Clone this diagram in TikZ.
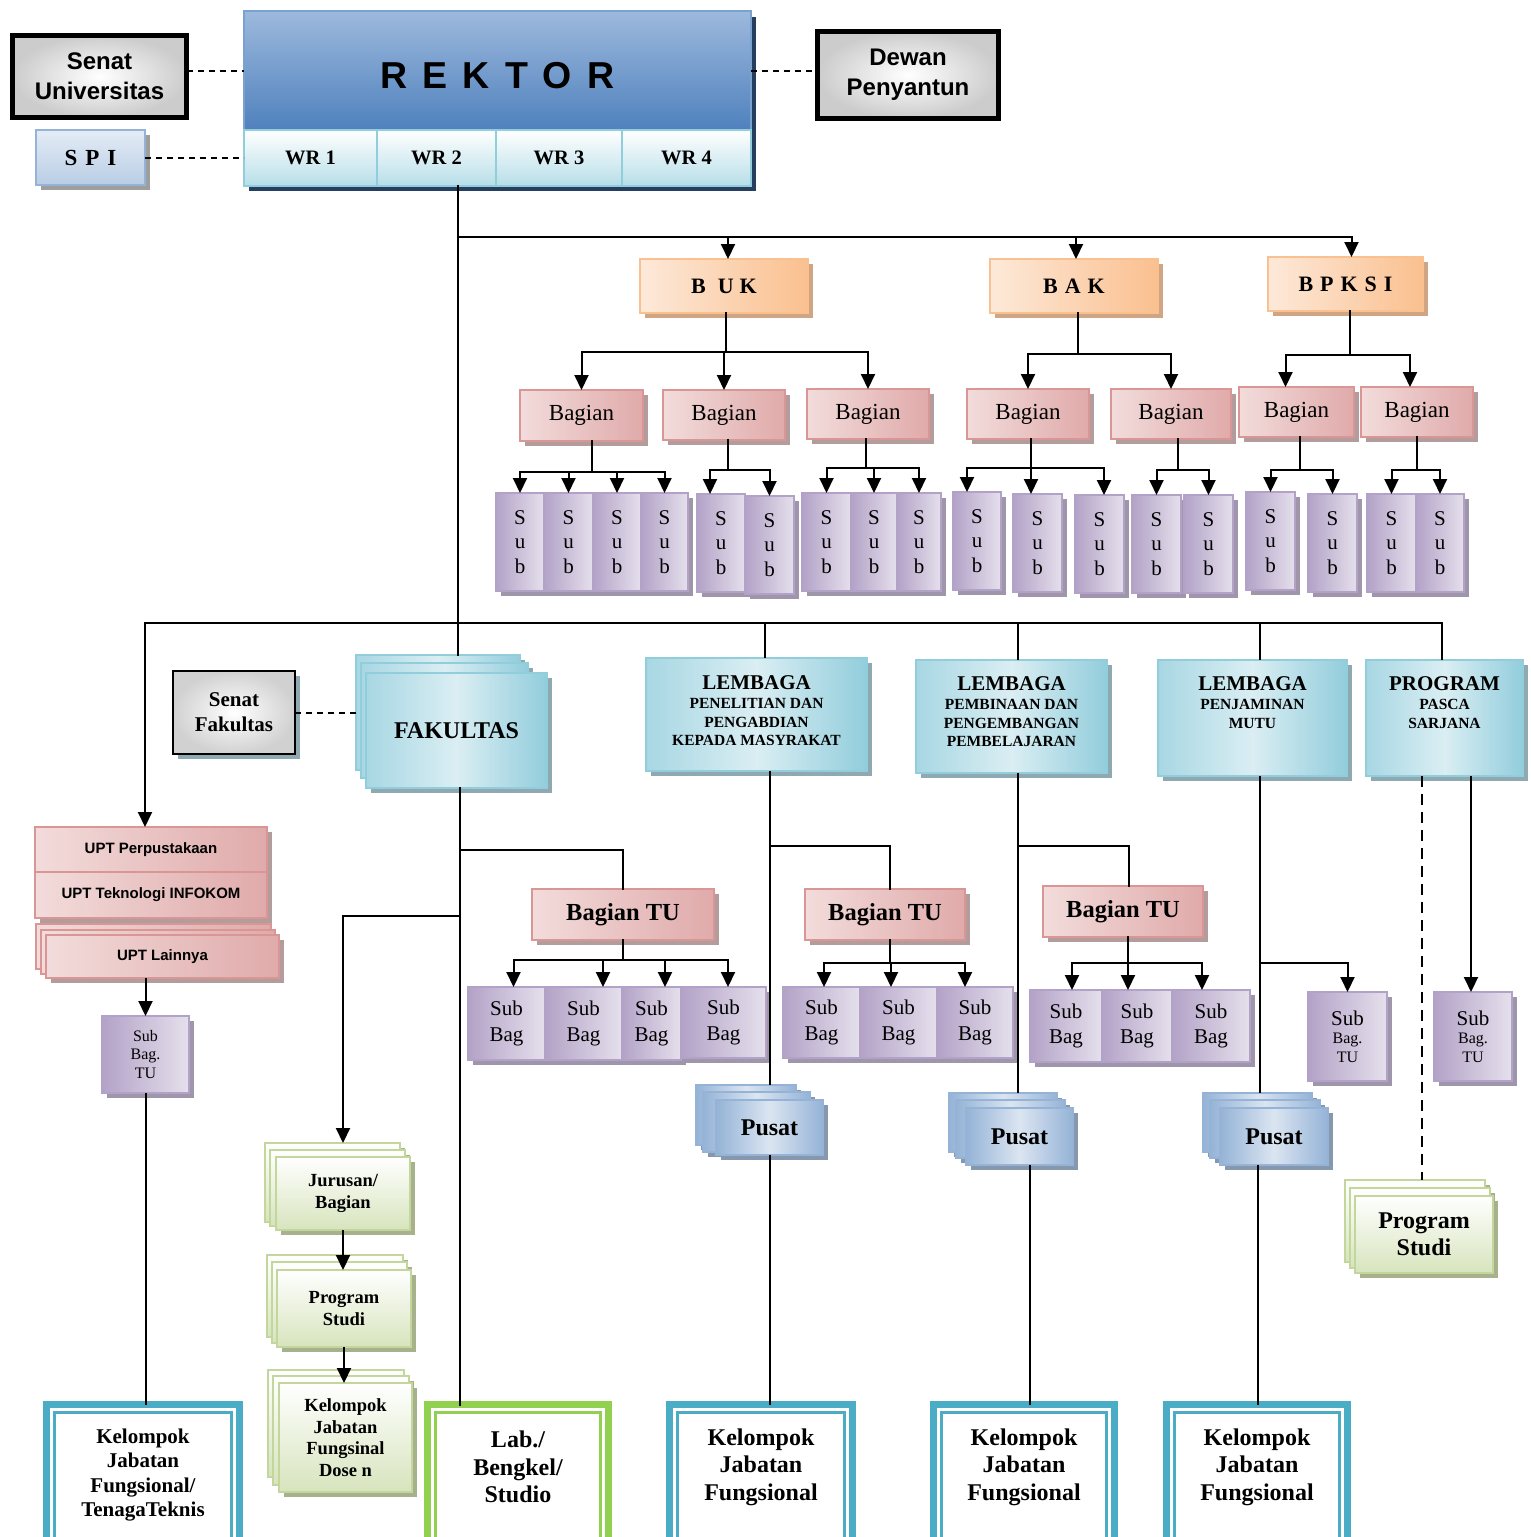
\documentclass[tikz,border=0pt]{standalone}
\usepackage{fontspec}
\setmainfont{Liberation Serif}
\newfontfamily\sansf{Liberation Sans}
\usetikzlibrary{arrows.meta,shadows}
\newcommand\fsz[2]{\fontsize{#1}{#2}\selectfont}
\newcommand\mkbox[7]{%
  \pgfmathsetmacro\bxw{#5-#3}\pgfmathsetmacro\bxh{#6-#4}%
  \pgfmathsetmacro\bxcx{(#3+#5)/2}\pgfmathsetmacro\bxcy{(#4+#6)/2}%
  \node[#1,minimum width=\bxw pt,minimum height=\bxh pt] (#2) at (\bxcx,\bxcy) {#7};}
\newcommand\fan[5]{%
  \coordinate (fanY) at (0,#2);
  \draw[ln] (#1) -- (#1 |- fanY);
  \draw[ln] (#3 |- fanY) -- (#4 |- fanY);
  \foreach \c in {#5} \draw[arr] (\c |- fanY) -- (\c);}
\definecolor{rkTop}{HTML}{9DB9DD}
\definecolor{rkBot}{HTML}{4F81BD}
\definecolor{rkB}{HTML}{7BA1CF}
\definecolor{navyS}{HTML}{243F60}
\definecolor{wrD}{HTML}{B7DEE8}
\definecolor{wrB}{HTML}{92CDDC}
\definecolor{spiL}{HTML}{E4ECF6}
\definecolor{spiD}{HTML}{B9CDE5}
\definecolor{spiB}{HTML}{95B3D7}
\definecolor{orL}{HTML}{FDE9D9}
\definecolor{orD}{HTML}{FAC08F}
\definecolor{orS}{HTML}{CFA583}
\definecolor{pkL}{HTML}{F2DCDB}
\definecolor{pkD}{HTML}{E0AAAA}
\definecolor{pkB}{HTML}{D99694}
\definecolor{pkS}{HTML}{B39C9C}
\definecolor{puL}{HTML}{E5E0EC}
\definecolor{puD}{HTML}{B3A2C7}
\definecolor{puS}{HTML}{A096AC}
\definecolor{lbL}{HTML}{DAEEF3}
\definecolor{lbD}{HTML}{92CDDC}
\definecolor{lbS}{HTML}{8FA9B2}
\definecolor{plL}{HTML}{DBE5F1}
\definecolor{plD}{HTML}{95B3D7}
\definecolor{plS}{HTML}{8798AE}
\definecolor{grD}{HTML}{D7E4BD}
\definecolor{grB}{HTML}{C3D69B}
\definecolor{grS}{HTML}{A7B18C}
\definecolor{tealF}{HTML}{4BACC6}
\definecolor{limeF}{HTML}{92D050}
\tikzset{
 bx/.style={inner sep=0pt,outer sep=0pt,align=center,line width=1.5pt},
 shd/.style={drop shadow={shadow xshift=5pt,shadow yshift=-5pt,fill=#1,opacity=1}},
 senbox/.style={bx,draw=black,line width=5pt,inner color=white,outer color=black!20,font=\sansf\bfseries\fsz{24}{30}},
 rekbox/.style={bx,draw=rkB,top color=rkTop,bottom color=rkBot,font=\sansf\bfseries\fsz{37.5}{40}},
 wrbox/.style={bx,draw=wrB,top color=white,bottom color=wrD,font=\bfseries\fsz{20.5}{24}},
 spibox/.style={bx,draw=spiB,top color=spiL,bottom color=spiD,shd=black!38,font=\bfseries\fsz{23}{26}},
 orbox/.style={bx,draw=orD,left color=orL,right color=orD,shd=orS,font=\bfseries\fsz{22}{26}},
 pkbox/.style={bx,draw=pkB,left color=pkL,right color=pkD,shd=pkS,font=\fsz{23}{26}},
 tubox/.style={pkbox,font=\bfseries\fsz{24.5}{28}},
 uptbox/.style={pkbox,font=\sansf\bfseries\fsz{15}{17}},
 pubox/.style={bx,draw=puD,left color=puD,right color=puL,shd=puS,font=\fsz{21}{24.5}},
 sbbox/.style={pubox,font=\fsz{21}{25.5}},
 stubox/.style={pubox,font=\fsz{16}{18.5}},
 lbbox/.style={bx,draw=lbD,left color=lbD!80,right color=lbD,middle color=lbL,shd=lbS},
 lbtxt/.style={inner sep=0pt,align=center,font=\bfseries\fsz{15.5}{18.5}},
 fakbox/.style={lbbox,font=\bfseries\fsz{24}{28}},
 psbox/.style={bx,draw=plD,left color=plD,right color=plD,middle color=plL,shd=plS,font=\bfseries\fsz{24}{28}},
 grbox/.style={bx,draw=grB,top color=white,bottom color=grD,shd=grS,font=\bfseries\fsz{18.5}{21.5}},
 grbig/.style={grbox,font=\bfseries\fsz{24}{27}},
 sfbox/.style={bx,draw=black,line width=2.5pt,inner color=white,outer color=black!18,shd=lbS,font=\bfseries\fsz{21}{25}},
 tframe/.style={bx,draw=tealF,line width=7.5pt,fill=white},
 gframe/.style={tframe,draw=limeF},
 ftxt/.style={inner sep=0pt,align=center,font=\bfseries\fsz{24}{27.5}},
 ftxts/.style={ftxt,font=\bfseries\fsz{21}{24.5}},
 inframe/.style={line width=3pt},
 ln/.style={line width=2pt,line cap=rect},
 tln/.style={line width=2pt},
 arr/.style={line width=2pt,-{Triangle[width=14pt,length=15pt]}},
 dsh/.style={line width=2pt,dash pattern=on 6pt off 5pt},
 bdsh/.style={line width=2.5pt,dash pattern=on 11pt off 7pt},
}
\begin{document}
\begin{tikzpicture}[x=1pt,y=-1pt]
\useasboundingbox (0,0) rectangle (1531,1537);
% ---------- top ----------
\fill[navyS] (249,17) rectangle (756,191);
\mkbox{rekbox}{rek}{244}{11}{751}{130}{\raisebox{-5pt}[\height][0pt]{R\hspace{15pt}E\hspace{15pt}K\hspace{15pt}T\hspace{15pt}O\hspace{15pt}R}}
\mkbox{wrbox}{wr1}{244}{130}{377}{186}{WR 1}
\mkbox{wrbox}{wr2}{377}{130}{496}{186}{WR 2}
\mkbox{wrbox}{wr3}{496}{130}{622}{186}{WR 3}
\mkbox{wrbox}{wr4}{622}{130}{751}{186}{WR 4}
\mkbox{senbox}{senU}{12.5}{35.5}{186.5}{117.5}{Senat\\Universitas}
\mkbox{senbox}{dew}{817.5}{31.5}{998.5}{118.5}{Dewan\\Penyantun}
\mkbox{spibox}{spi}{36}{130}{145}{185}{S\hspace{8pt}P\hspace{8pt}I}
% ---------- biro ----------
\mkbox{orbox}{buk}{640}{259}{808}{313}{B\hspace{12pt}U\hspace{6pt}K}
\mkbox{orbox}{bak}{990}{259}{1158}{313}{B\hspace{7pt}A\hspace{7pt}K}
\mkbox{orbox}{bpk}{1268}{257}{1423}{311}{B\hspace{7pt}P\hspace{7pt}K\hspace{7pt}S\hspace{7pt}I}
\mkbox{pkbox}{bg1}{520}{390}{643}{441}{Bagian}
\mkbox{pkbox}{bg2}{663}{390}{785}{440}{Bagian}
\mkbox{pkbox}{bg3}{807}{389}{929}{439}{Bagian}
\mkbox{pkbox}{bg4}{967}{389}{1089}{439}{Bagian}
\mkbox{pkbox}{bg5}{1111}{389}{1231}{439}{Bagian}
\mkbox{pkbox}{bg6}{1239}{387}{1354}{437}{Bagian}
\mkbox{pkbox}{bg7}{1361}{387}{1473}{437}{Bagian}
\mkbox{pubox}{s1}{496}{493}{544}{591}{S\\u\\b}
\mkbox{pubox}{s2}{544}{493}{593}{591}{S\\u\\b}
\mkbox{pubox}{s3}{593}{493}{641}{591}{S\\u\\b}
\mkbox{pubox}{s4}{641}{493}{688}{591}{S\\u\\b}
\mkbox{pubox}{s5}{697}{494}{745}{592}{S\\u\\b}
\mkbox{pubox}{s6}{745}{496}{794}{594}{S\\u\\b}
\mkbox{pubox}{s7}{802}{493}{851}{591}{S\\u\\b}
\mkbox{pubox}{s8}{851}{493}{897}{591}{S\\u\\b}
\mkbox{pubox}{s9}{897}{493}{941}{591}{S\\u\\b}
\mkbox{pubox}{s10}{953}{492}{1001}{590}{S\\u\\b}
\mkbox{pubox}{s11}{1013}{494}{1062}{592}{S\\u\\b}
\mkbox{pubox}{s12}{1075}{495}{1124}{593}{S\\u\\b}
\mkbox{pubox}{s13}{1132}{495}{1181}{593}{S\\u\\b}
\mkbox{pubox}{s14}{1184}{495}{1233}{593}{S\\u\\b}
\mkbox{pubox}{s15}{1246}{492}{1295}{590}{S\\u\\b}
\mkbox{pubox}{s16}{1308}{494}{1357}{592}{S\\u\\b}
\mkbox{pubox}{s17}{1367}{494}{1416}{592}{S\\u\\b}
\mkbox{pubox}{s18}{1416}{494}{1464}{592}{S\\u\\b}
% ---------- UPT ----------
\mkbox{uptbox}{upt1}{35}{827}{267}{872}{UPT Perpustakaan}
\mkbox{uptbox}{upt2}{35}{872}{267}{918}{UPT Teknologi INFOKOM}
\mkbox{uptbox}{uptA}{36}{924}{271}{969}{}
\mkbox{uptbox}{uptB}{41}{930}{275}{974}{}
\mkbox{uptbox}{upt3}{46}{935}{279}{978}{UPT Lainnya}
\mkbox{stubox}{stu0}{102}{1016}{189}{1093}{Sub\\Bag.\\TU}
% ---------- fakultas ----------
\mkbox{sfbox}{sf}{173}{671}{295}{754}{Senat\\Fakultas}
\mkbox{fakbox}{fakA}{356}{655}{520}{770}{}
\mkbox{fakbox}{fakB}{361}{663}{528}{778}{}
\mkbox{fakbox}{fak}{366}{673}{547}{788}{FAKULTAS}
% ---------- lembaga ----------
\mkbox{lbbox}{lem1}{646}{658}{867}{771}{}
\node[lbtxt,anchor=north] (lem1t) at ([yshift=-17pt]lem1.north) {{\fsz{21}{24}LEMBAGA}\\[1pt]PENELITIAN DAN\\PENGABDIAN\\KEPADA MASYRAKAT};
\mkbox{lbbox}{lem2}{916}{660}{1107}{773}{}
\node[lbtxt,anchor=north] (lem2t) at ([yshift=-16pt]lem2.north) {{\fsz{21}{24}LEMBAGA}\\[1pt]PEMBINAAN DAN\\PENGEMBANGAN\\PEMBELAJARAN};
\mkbox{lbbox}{lem3}{1158}{660}{1347}{776}{}
\node[lbtxt,anchor=north] (lem3t) at ([yshift=-16pt]lem3.north) {{\fsz{21}{24}LEMBAGA}\\[1pt]PENJAMINAN\\MUTU};
\mkbox{lbbox}{pps}{1366}{660}{1523}{776}{}
\node[lbtxt,anchor=north] (ppst) at ([yshift=-16pt]pps.north) {{\fsz{21}{24}PROGRAM}\\[1pt]PASCA\\SARJANA};
% ---------- bagian TU ----------
\mkbox{tubox}{btu1}{532}{889}{714}{940}{Bagian TU}
\mkbox{tubox}{btu2}{805}{889}{965}{940}{Bagian TU}
\mkbox{tubox}{btu3}{1043}{886}{1203}{937}{Bagian TU}
\mkbox{sbbox}{sb1}{468}{987}{545}{1060}{Sub\\Bag}
\mkbox{sbbox}{sb2}{545}{987}{622}{1060}{Sub\\Bag}
\mkbox{sbbox}{sb3}{622}{987}{681}{1060}{Sub\\Bag}
\mkbox{sbbox}{sb4}{681}{987}{766}{1058}{Sub\\Bag}
\mkbox{sbbox}{sc1}{783}{987}{860}{1058}{Sub\\Bag}
\mkbox{sbbox}{sc2}{860}{987}{937}{1058}{Sub\\Bag}
\mkbox{sbbox}{sc3}{937}{987}{1013}{1058}{Sub\\Bag}
\mkbox{sbbox}{sd1}{1030}{990}{1102}{1062}{Sub\\Bag}
\mkbox{sbbox}{sd2}{1102}{990}{1172}{1062}{Sub\\Bag}
\mkbox{sbbox}{sd3}{1172}{990}{1250}{1062}{Sub\\Bag}
\mkbox{stubox}{stu2}{1308}{992}{1387}{1081}{{\fsz{21}{22}Sub}\\Bag.\\TU}
\mkbox{stubox}{stu3}{1434}{992}{1512}{1081}{{\fsz{21}{22}Sub}\\Bag.\\TU}
% ---------- pusat ----------
\mkbox{psbox}{p1A}{696}{1085}{796}{1145}{}
\mkbox{psbox}{p1B}{703}{1092}{810}{1152}{}
\mkbox{psbox}{p1}{716}{1100}{823}{1155}{Pusat}
\mkbox{psbox}{p2A}{949}{1093}{1057}{1152}{}
\mkbox{psbox}{p2B}{956}{1100}{1065}{1158}{}
\mkbox{psbox}{p2}{966}{1108}{1073}{1165}{Pusat}
\mkbox{psbox}{p3A}{1203}{1093}{1312}{1152}{}
\mkbox{psbox}{p3B}{1210}{1100}{1320}{1158}{}
\mkbox{psbox}{p3}{1220}{1108}{1328}{1165}{Pusat}
% ---------- green ----------
\mkbox{grbox}{jA}{265}{1143}{400}{1222}{}
\mkbox{grbox}{jB}{270}{1150}{405}{1226}{}
\mkbox{grbox}{jur}{276}{1157}{410}{1230}{Jurusan/\\Bagian}
\mkbox{grbox}{prA}{267}{1255}{403}{1337}{}
\mkbox{grbox}{prB}{272}{1262}{407}{1343}{}
\mkbox{grbox}{pr}{277}{1270}{411}{1347}{Program\\Studi}
\mkbox{grbox}{kA}{268}{1370}{404}{1477}{}
\mkbox{grbox}{kB}{273}{1376}{409}{1485}{}
\mkbox{grbox}{kjd}{279}{1383}{412}{1492}{Kelompok\\Jabatan\\Fungsinal\\Dose n}
\mkbox{grbig}{psA}{1345}{1180}{1485}{1262}{}
\mkbox{grbig}{psB}{1350}{1188}{1490}{1268}{}
\mkbox{grbig}{ps2}{1355}{1196}{1493}{1273}{Program\\Studi}
% ---------- bottom frames ----------
\mkbox{tframe}{kjf1}{46.5}{1404.5}{239.5}{1548}{}
\mkbox{gframe}{lab}{427.5}{1404.5}{608.5}{1548}{}
\mkbox{tframe}{kjf2}{669.5}{1404.5}{852.5}{1548}{}
\mkbox{tframe}{kjf3}{933.5}{1404.5}{1114.5}{1548}{}
\mkbox{tframe}{kjf4}{1166.5}{1404.5}{1347.5}{1548}{}
\foreach \f/\c in {kjf1/tealF,lab/limeF,kjf2/tealF,kjf3/tealF,kjf4/tealF}
  \draw[inframe,draw=\c] ([shift={(8,8)}]\f.north west) rectangle ([shift={(-8,-8)}]\f.south east);
\node[ftxts] (kjf1t) at (143,1475) {Kelompok\\Jabatan\\Fungsional/\\TenagaTeknis};
\node[ftxt] (labt) at (518,1467) {Lab./\\Bengkel/\\Studio};
\node[ftxt] (kjf2t) at (761,1467) {Kelompok\\Jabatan\\Fungsional};
\node[ftxt] (kjf3t) at (1024,1467) {Kelompok\\Jabatan\\Fungsional};
\node[ftxt] (kjf4t) at (1257,1467) {Kelompok\\Jabatan\\Fungsional};
% ---------- connectors: top ----------
\draw[dsh] (rek.west -| senU.east) -- (rek.west);
\draw[dsh] (rek.east) -- (rek.east -| dew.west);
\draw[dsh] (spi.east) -- (spi.east -| wr1.west);
\coordinate (yA) at (0,237);
\coordinate (trT) at ([xshift=21.5pt]wr2.south);
\coordinate (bukT) at ([xshift=4pt]buk.north);
\coordinate (bakT) at ([xshift=2pt]bak.north);
\coordinate (bpkT) at ([xshift=6pt]bpk.north);
\draw[ln] (trT) -- (trT |- fakA.north);
\draw[ln] (trT |- yA) -- (bpkT |- yA);
\foreach \c in {bukT,bakT,bpkT} \draw[arr] (\c |- yA) -- (\c);
% biro to bagian
\coordinate (bukB) at ([xshift=2pt]buk.south);
\fan{bukB}{352}{bg1.north}{bg3.north}{bg1.north,bg2.north,bg3.north}
\coordinate (bakB) at ([xshift=4pt]bak.south);
\fan{bakB}{354}{bg4.north}{bg5.north}{bg4.north,bg5.north}
\coordinate (bpkB) at ([xshift=4.5pt]bpk.south);
\coordinate (bg6T) at ([xshift=-11pt]bg6.north);
\coordinate (bg7T) at ([xshift=-7pt]bg7.north);
\fan{bpkB}{355}{bg6T}{bg7T}{bg6T,bg7T}
% bagian to sub
\coordinate (g1) at ([xshift=10.5pt]bg1.south);
\fan{g1}{472}{s1.north}{s4.north}{s1.north,s2.north,s3.north,s4.north}
\coordinate (g2) at ([xshift=4pt]bg2.south);
\coordinate (s5T) at ([xshift=-11pt]s5.north);
\fan{g2}{470}{s5T}{s6.north}{s5T,s6.north}
\coordinate (g3) at ([xshift=-2pt]bg3.south);
\fan{g3}{468}{s7.north}{s9.north}{s7.north,s8.north,s9.north}
\coordinate (g4) at ([xshift=3pt]bg4.south);
\coordinate (s10T) at ([xshift=-10pt]s10.north);
\coordinate (s11T) at ([xshift=-6.5pt]s11.north);
\coordinate (s12T) at ([xshift=4.5pt]s12.north);
\fan{g4}{468}{s10T}{s12T}{s10T,s11T,s12T}
\coordinate (g5) at ([xshift=7pt]bg5.south);
\fan{g5}{470}{s13.north}{s14.north}{s13.north,s14.north}
\coordinate (g6) at ([xshift=3.5pt]bg6.south);
\fan{g6}{470}{s15.north}{s16.north}{s15.north,s16.north}
\coordinate (g7) at (bg7.south);
\fan{g7}{470}{s17.north}{s18.north}{s17.north,s18.north}
% ---------- second level ----------
\coordinate (yB) at (0,623);
\coordinate (uptT) at ([xshift=-6pt]upt1.north);
\coordinate (ppsT) at ([xshift=-2.5pt]pps.north);
\coordinate (l1T) at ([xshift=8.5pt]lem1.north);
\coordinate (l2T) at ([xshift=6.5pt]lem2.north);
\coordinate (l3T) at ([xshift=7.5pt]lem3.north);
\draw[ln] (uptT |- yB) -- (ppsT |- yB);
\draw[arr] (uptT |- yB) -- (uptT);
\foreach \c in {l1T,l2T,l3T,ppsT} \draw[tln] (\c |- yB) -- (\c);
% UPT
\draw[arr] (upt3.south -| stu0.north) -- (stu0.north);
\draw[tln] (stu0.south) -- (stu0.south |- kjf1.north);
% fakultas
\draw[dsh] (sf.east) -- (sf.east -| fakA.west);
\coordinate (fkB) at ([xshift=3.5pt]fak.south);
\draw[ln] (fkB) -- (fkB |- lab.north);
\coordinate (y850) at (0,850);
\coordinate (y916) at (0,916);
\draw[ln] (fkB |- y850) -| (btu1.north);
\draw[arr] (fkB |- y916) -| (jur.north |- jA.north);
\coordinate (t1) at (btu1.south);
\coordinate (sb1T) at ([xshift=7pt]sb1.north);
\coordinate (sb2T) at ([xshift=19.5pt]sb2.north);
\coordinate (sb3T) at ([xshift=13.5pt]sb3.north);
\coordinate (sb4T) at ([xshift=4.5pt]sb4.north);
\fan{t1}{960}{sb1T}{sb4T}{sb1T,sb2T,sb3T,sb4T}
\draw[arr] (jur.south) -- (jur.south |- pr.north);
\draw[arr] (pr.south) -- (pr.south |- kjd.north);
% lembaga 1
\coordinate (y846) at (0,846);
\coordinate (l1B) at ([xshift=13.5pt]lem1.south);
\coordinate (b2T) at ([xshift=5pt]btu2.north);
\draw[tln] (l1B) -- (l1B |- p1A.north);
\draw[ln] (l1B |- y846) -| (b2T);
\coordinate (t2) at ([xshift=5pt]btu2.south);
\coordinate (sc1T) at ([xshift=2.5pt]sc1.north);
\coordinate (sc2T) at ([xshift=-7.5pt]sc2.north);
\coordinate (sc3T) at ([xshift=-10pt]sc3.north);
\fan{t2}{963}{sc1T}{sc3T}{sc1T,sc2T,sc3T}
\coordinate (p1B) at (p1.south);
\draw[tln] (p1B) -- (p1B |- kjf2.north);
% lembaga 2
\coordinate (l2B) at ([xshift=6.5pt]lem2.south);
\coordinate (b3T) at ([xshift=6pt]btu3.north);
\draw[tln] (l2B) -- (l2B |- p2A.north);
\draw[ln] (l2B |- y846) -| (b3T);
\coordinate (t3) at ([xshift=5pt]btu3.south);
\coordinate (sd1T) at ([xshift=6pt]sd1.north);
\coordinate (sd2T) at ([xshift=-9pt]sd2.north);
\coordinate (sd3T) at ([xshift=-9pt]sd3.north);
\fan{t3}{963}{sd1T}{sd3T}{sd1T,sd2T,sd3T}
\coordinate (p2B) at ([xshift=10.5pt]p2.south);
\draw[tln] (p2B) -- (p2B |- kjf3.north);
% lembaga 3
\coordinate (y963) at (0,963);
\coordinate (l3B) at ([xshift=7.5pt]lem3.south);
\draw[tln] (l3B) -- (l3B |- p3A.north);
\draw[arr] (l3B |- y963) -| (stu2.north);
\coordinate (p3B) at ([xshift=-16pt]p3.south);
\draw[tln] (p3B) -- (p3B |- kjf4.north);
% pasca
\coordinate (ppsD) at ([xshift=-22.5pt]pps.south);
\draw[bdsh] (ppsD) -- (ppsD |- psA.north);
\coordinate (ppsE) at ([xshift=26.5pt]pps.south);
\draw[arr] (ppsE) -- (ppsE |- stu3.north);
\end{tikzpicture}
\end{document}
